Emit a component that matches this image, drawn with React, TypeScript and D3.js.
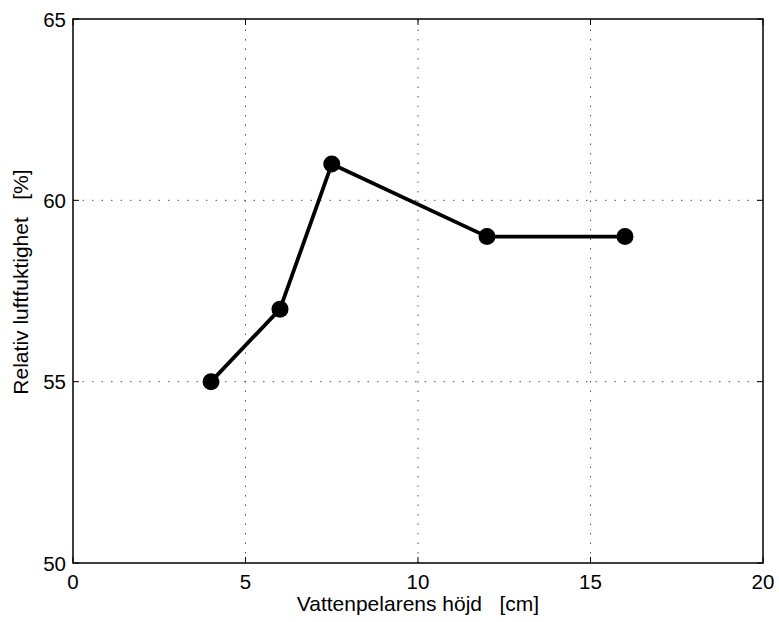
import React from "react";
import * as d3 from "d3";

const width = 779;
const height = 622;
const margin = { top: 19, right: 16, bottom: 59, left: 73 };

// measured points
const heights = [4, 6, 7.5, 12, 16];
const humidity = [55, 57, 61, 59, 59];
const xTicks = [0, 5, 10, 15, 20];
const yTicks = [50, 55, 60, 65];

const font = "'Liberation Sans', Arial, Helvetica, sans-serif";

export default function App() {
  const x = d3.scaleLinear().domain([0, 20]).range([margin.left, width - margin.right]);
  const y = d3.scaleLinear().domain([50, 65]).range([height - margin.bottom, margin.top]);

  const points = heights.map((h, i) => [h, humidity[i]] as [number, number]);
  const line = d3
    .line<[number, number]>()
    .x(d => x(d[0]))
    .y(d => y(d[1]));

  const x0 = x(0), x1 = x(20), y0 = y(50), y1 = y(65);

  return (
    <svg width={width} height={height} style={{ position: "absolute", left: 0, top: 0, background: "#fff" }}>
      {/* dotted grid */}
      <g stroke="#555" strokeWidth={1} strokeDasharray="1.5,8">
        {xTicks.slice(1, -1).map(t => (
          <line key={"gx" + t} x1={x(t)} x2={x(t)} y1={y0} y2={y1} />
        ))}
        {yTicks.slice(1, -1).map(t => (
          <line key={"gy" + t} x1={x0} x2={x1} y1={y(t)} y2={y(t)} />
        ))}
      </g>

      {/* ticks inside the box */}
      <g stroke="#000" strokeWidth={1}>
        {xTicks.map(t => (
          <g key={"tx" + t}>
            <line x1={x(t)} x2={x(t)} y1={y0} y2={y0 - 6} />
            <line x1={x(t)} x2={x(t)} y1={y1} y2={y1 + 6} />
          </g>
        ))}
        {yTicks.map(t => (
          <g key={"ty" + t}>
            <line x1={x0} x2={x0 + 6} y1={y(t)} y2={y(t)} />
            <line x1={x1} x2={x1 - 6} y1={y(t)} y2={y(t)} />
          </g>
        ))}
      </g>

      <rect x={x0} y={y1} width={x1 - x0} height={y0 - y1} fill="none" stroke="#000" strokeWidth={1.5} />

      <path d={line(points) || ""} fill="none" stroke="#000" strokeWidth={3.8} strokeLinejoin="round" />
      {points.map((p, i) => (
        <circle key={i} cx={x(p[0])} cy={y(p[1])} r={8.5} fill="#000" />
      ))}

      <g fontFamily={font} fontSize={20.5} fill="#000">
        {xTicks.map(t => (
          <text key={"lx" + t} x={x(t)} y={y0 + 26} textAnchor="middle">
            {t}
          </text>
        ))}
        {yTicks.map(t => (
          <text key={"ly" + t} x={x0 - 7} y={y(t) + 7.5} textAnchor="end">
            {t}
          </text>
        ))}
        <text x={(x0 + x1) / 2} y={611} textAnchor="middle" fontSize={21} style={{ whiteSpace: "pre" }}>
          {"Vattenpelarens höjd   [cm]"}
        </text>
        <text
          transform={`translate(28, ${(y0 + y1) / 2 - 9}) rotate(-90)`}
          textAnchor="middle"
          fontSize={21}
          style={{ whiteSpace: "pre" }}
        >
          {"Relativ luftfuktighet   [%]"}
        </text>
      </g>
    </svg>
  );
}
